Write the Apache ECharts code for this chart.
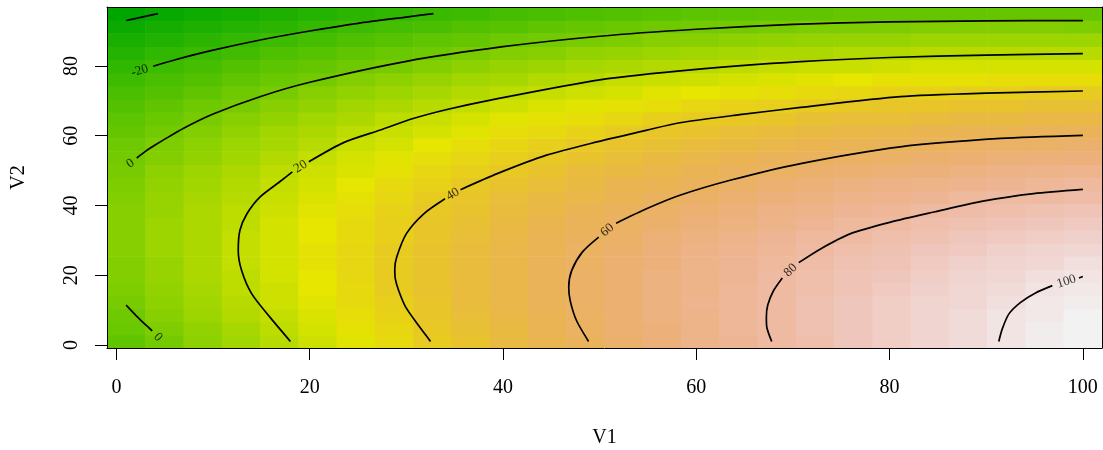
<!DOCTYPE html>
<html>
<head>
<meta charset="utf-8">
<script src="https://cdn.jsdelivr.net/npm/echarts@6/dist/echarts.min.js"></script>
<style>
html, body { margin: 0; padding: 0; background: #fff; }
#chart { width: 1103px; height: 450px; }
</style>
</head>
<body>
<div id="chart"></div>
<script>
// cell centres of the image grid
var xs = [1, 4.96, 8.92, 12.88, 16.84, 20.8, 24.76, 28.72, 32.68, 36.64, 40.6, 44.56, 48.52,
          52.48, 56.44, 60.4, 64.36, 68.32, 72.28, 76.24, 80.2, 84.16, 88.12, 92.08, 96.04, 100];
var ys = [1, 4.76, 8.52, 12.28, 16.04, 19.8, 23.56, 27.32, 31.08, 34.84, 38.6, 42.36, 46.12,
          49.88, 53.64, 57.4, 61.16, 64.92, 68.68, 72.44, 76.2, 79.96, 83.72, 87.48, 91.24, 95];

// z values, one row per ys entry (bottom to top), one column per xs entry
var zRows = [
  [-6.5,-0.1,6.2,12.3,18.2,23.9,29.5,35.0,40.2,45.3,50.3,55.1,59.7,64.1,68.4,72.6,76.5,80.3,84.0,87.5,90.8,94.0,97.0,99.8,102.5,105.0],
  [-3.9,2.4,8.5,14.5,20.3,25.9,31.4,36.7,41.9,46.9,51.7,56.4,60.9,65.2,69.4,73.4,77.2,80.9,84.5,87.8,91.0,94.1,97.0,99.7,102.2,104.6],
  [-1.6,4.6,10.6,16.5,22.1,27.7,33.0,38.2,43.2,48.1,52.8,57.4,61.7,65.9,70.0,73.9,77.6,81.2,84.6,87.9,91.0,93.9,96.6,99.2,101.7,103.9],
  [0.4,6.5,12.4,18.1,23.7,29.1,34.3,39.4,44.3,49.0,53.6,58.1,62.3,66.4,70.3,74.1,77.7,81.2,84.5,87.6,90.6,93.4,96.0,98.5,100.8,103.0],
  [2.0,8.0,13.8,19.4,24.8,30.1,35.2,40.1,44.9,49.6,54.0,58.4,62.5,66.5,70.3,73.9,77.4,80.8,83.9,86.9,89.8,92.5,95.0,97.4,99.6,101.6],
  [3.3,9.1,14.8,20.3,25.6,30.8,35.7,40.6,45.3,49.8,54.1,58.3,62.3,66.2,69.9,73.4,76.8,80.0,83.1,86.0,88.7,91.3,93.7,95.9,98.0,99.9],
  [4.2,9.9,15.5,20.8,26.0,31.1,35.9,40.7,45.2,49.6,53.8,57.9,61.8,65.6,69.2,72.6,75.8,78.9,81.9,84.6,87.2,89.7,92.0,94.1,96.0,97.8],
  [4.8,10.4,15.8,21.1,26.1,31.1,35.8,40.4,44.9,49.2,53.3,57.2,61.0,64.6,68.1,71.4,74.5,77.5,80.3,82.9,85.4,87.8,89.9,91.9,93.8,95.5],
  [5.1,10.5,15.8,21.0,25.9,30.7,35.4,39.8,44.2,48.3,52.3,56.2,59.8,63.3,66.7,69.8,72.9,75.7,78.4,80.9,83.3,85.5,87.6,89.4,91.2,92.7],
  [5.0,10.3,15.5,20.5,25.3,30.1,34.6,38.9,43.1,47.2,51.0,54.8,58.3,61.7,64.9,68.0,70.9,73.6,76.2,78.6,80.8,82.9,84.8,86.6,88.2,89.7],
  [4.6,9.8,14.8,19.7,24.4,29.0,33.4,37.6,41.7,45.7,49.4,53.0,56.4,59.7,62.8,65.7,68.5,71.1,73.6,75.9,78.0,80.0,81.8,83.4,84.9,86.2],
  [3.8,8.9,13.8,18.6,23.2,27.7,31.9,36.0,40.0,43.8,47.4,50.9,54.2,57.4,60.4,63.2,65.8,68.3,70.7,72.8,74.8,76.7,78.4,79.9,81.3,82.5],
  [2.7,7.6,12.5,17.1,21.6,25.9,30.1,34.1,37.9,41.6,45.1,48.5,51.7,54.7,57.6,60.3,62.8,65.2,67.4,69.5,71.3,73.1,74.7,76.0,77.3,78.4],
  [1.2,6.0,10.8,15.3,19.6,23.9,27.9,31.8,35.5,39.1,42.5,45.7,48.8,51.7,54.4,57.0,59.4,61.7,63.8,65.7,67.5,69.1,70.6,71.8,73.0,74.0],
  [-0.6,4.1,8.7,13.1,17.4,21.5,25.4,29.2,32.8,36.2,39.5,42.6,45.6,48.3,51.0,53.4,55.7,57.9,59.9,61.7,63.3,64.8,66.2,67.3,68.3,69.2],
  [-2.8,1.9,6.4,10.6,14.7,18.7,22.5,26.2,29.7,33.0,36.1,39.2,42.0,44.6,47.2,49.5,51.7,53.7,55.6,57.3,58.8,60.2,61.4,62.4,63.3,64.1],
  [-5.2,-0.8,3.6,7.8,11.8,15.7,19.3,22.8,26.2,29.4,32.5,35.4,38.1,40.6,43.0,45.2,47.3,49.2,50.9,52.5,53.9,55.2,56.3,57.2,58.0,58.6],
  [-8.1,-3.7,0.6,4.6,8.5,12.2,15.8,19.2,22.5,25.5,28.4,31.2,33.8,36.2,38.5,40.6,42.5,44.3,46.0,47.4,48.7,49.9,50.8,51.6,52.3,52.8],
  [-11.2,-7.0,-2.8,1.1,4.8,8.5,11.9,15.2,18.3,21.3,24.1,26.8,29.2,31.5,33.7,35.7,37.5,39.1,40.7,42.0,43.1,44.2,45.0,45.7,46.3,46.6],
  [-14.8,-10.6,-6.6,-2.8,0.8,4.4,7.7,10.8,13.9,16.7,19.4,21.9,24.3,26.4,28.5,30.3,32.0,33.6,35.0,36.2,37.2,38.2,38.9,39.4,39.9,40.1],
  [-18.6,-14.6,-10.7,-7.0,-3.5,-0.1,3.1,6.1,9.1,11.8,14.3,16.8,19.0,21.0,23.0,24.7,26.3,27.7,29.0,30.1,31.0,31.8,32.4,32.8,33.2,33.3],
  [-22.8,-18.9,-15.1,-11.6,-8.2,-4.9,-1.8,1.1,3.9,6.5,8.9,11.3,13.4,15.3,17.1,18.7,20.2,21.5,22.7,23.6,24.4,25.1,25.6,25.9,26.1,26.1],
  [-27.4,-23.6,-19.9,-16.5,-13.2,-10.0,-7.1,-4.3,-1.6,0.9,3.2,5.4,7.4,9.2,10.9,12.4,13.7,14.9,16.0,16.8,17.5,18.1,18.4,18.6,18.7,18.6],
  [-32.2,-28.6,-25.0,-21.7,-18.6,-15.5,-12.7,-10.0,-7.4,-5.1,-2.9,-0.8,1.1,2.7,4.4,5.7,6.9,8.0,8.9,9.7,10.2,10.7,10.9,11.0,11.0,10.8],
  [-37.5,-33.9,-30.5,-27.3,-24.3,-21.3,-18.6,-16.1,-13.6,-11.4,-9.3,-7.3,-5.6,-4.0,-2.5,-1.3,-0.2,0.7,1.6,2.2,2.6,3.0,3.1,3.0,2.9,2.6],
  [-43.0,-39.6,-36.3,-33.2,-30.3,-27.5,-24.9,-22.5,-20.1,-18.0,-16.1,-14.2,-12.6,-11.2,-9.8,-8.6,-7.7,-6.9,-6.1,-5.7,-5.3,-5.1,-5.1,-5.3,-5.5,-6.0]
];

var xTicks = [0, 20, 40, 60, 80, 100];
var yTicks = [0, 20, 40, 60, 80];

// contour lines, each one split where its label sits
var contourM40 = [
  [[1, 93.0], [2.5, 93.9], [4.3, 95.0]]
];
var contourM20 = [
  [[3.8, 79.9], [6, 81.7], [10, 84.5], [15, 87.5], [20, 90.0], [25, 92.2], [30, 94.0], [32.8, 95.0]]
];
var contour0 = [
  [[1, 11.4], [2, 8.5], [3, 5.8], [3.7, 4.0]],
  [[2.1, 53.6], [3, 55.5], [4, 57.3], [5, 59.0], [7, 62.2], [10, 66.2], [15, 71.3], [20, 75.3],
   [30, 81.3], [40, 85.5], [50, 88.5], [60, 90.5], [70, 91.9], [80, 92.6], [90, 92.9], [100, 93.0]]
];
var contour20 = [
  [[18.0, 1.0], [15.9, 7.9], [14.0, 14.65], [12.95, 21.35], [12.6, 27.1], [12.77, 32.8], [13.5, 37.6],
   [14.84, 42.4], [17.1, 47.2], [18.2, 49.6]],
  [[19.9, 52.5], [23.5, 58.0], [27.3, 61.6], [30.7, 64.9], [34.2, 67.5], [38.7, 70.2], [50, 76.0],
   [60, 79.0], [70.8, 81.2], [80, 82.4], [90, 83.1], [100, 83.5]]
];
var contour40 = [
  [[32.5, 1.0], [31.3, 5.4], [29.9, 11.0], [29.2, 15.6], [28.85, 19.0], [28.8, 21.8], [29.0, 25.2],
   [30.0, 31.9], [31.8, 37.6], [34.0, 41.9]],
  [[35.6, 44.5], [39.4, 49.1], [44.5, 54.4], [49.7, 58.2], [54.9, 61.6], [58.3, 63.7], [64.5, 66.0],
   [70.8, 68.1], [81.1, 71.2], [90, 72.2], [100, 72.8]]
];
var contour60 = [
  [[48.85, 1.0], [47.6, 7.0], [46.95, 12.7], [46.8, 16.55], [47.1, 21.3], [48.2, 26.6], [49.9, 30.9]],
  [[51.7, 34.9], [54.9, 39.1], [58.3, 42.9], [63.5, 47.2], [70.8, 52.0], [81.1, 56.8], [91.5, 59.2], [100, 60.1]]
];
var contour80 = [
  [[67.8, 1.0], [67.3, 5.0], [67.25, 8.0], [67.4, 11.5], [68.0, 15.6], [68.9, 19.2]],
  [[70.6, 23.6], [72.9, 27.6], [75.96, 31.9], [80.1, 35.2], [84.6, 38.1], [89.8, 41.3], [94.9, 43.4], [100, 44.6]]
];
var contour100 = [
  [[91.3, 1.0], [91.66, 4.6], [92.35, 8.9], [93.56, 12.2], [95.1, 14.9], [96.84, 17.0]],
  [[99.6, 19.2], [100, 19.6]]
];

// label anchor [x, y, text]
var contourLabels = [
  [2.4, 78.6, '-20'],
  [1.45, 52.0, '0'],
  [4.3, 2.2, '0'],
  [19.05, 51.1, '20'],
  [34.8, 43.2, '40'],
  [50.8, 32.9, '60'],
  [69.75, 21.4, '80'],
  [98.3, 18.2, '100']
];
var labelAngles = [17, 35, -46, 32, 31, 40, 44, 18];

var FONT = 'Liberation Serif';

// R's terrain.colors(n)
function hsv(h, s, v) {
    var i = Math.floor(h * 6), f = h * 6 - i;
    var p = v * (1 - s), q = v * (1 - f * s), t = v * (1 - (1 - f) * s);
    var rgb;
    switch (((i % 6) + 6) % 6) {
        case 0: rgb = [v, t, p]; break;
        case 1: rgb = [q, v, p]; break;
        case 2: rgb = [p, v, t]; break;
        case 3: rgb = [p, q, v]; break;
        case 4: rgb = [t, p, v]; break;
        default: rgb = [v, p, q];
    }
    return 'rgb(' + rgb.map(function (c) { return Math.round(c * 255); }).join(',') + ')';
}
function terrainColors(n) {
    var k = Math.floor(n / 2), cols = [];
    for (var i = 0; i < k; i++) {
        var t = k > 1 ? i / (k - 1) : 0;
        cols.push(hsv(4 / 12 - (2 / 12) * t, 1, 0.65 + 0.25 * t));
    }
    for (var j = 1; j <= n - k; j++) {
        var u = j / (n - k);
        cols.push(hsv((2 / 12) * (1 - u), 1 - u, 0.9 + 0.05 * u));
    }
    return cols;
}

var NCOL = 100;
var palette = terrainColors(NCOL);
var zMin = Infinity, zMax = -Infinity;
var cells = [];
zRows.forEach(function (row, j) {
    row.forEach(function (z, i) {
        cells.push([xs[i], ys[j], z]);
        if (z < zMin) zMin = z;
        if (z > zMax) zMax = z;
    });
});
function colorFor(z) {
    var k = Math.floor((z - zMin) / (zMax - zMin) * NCOL);
    return palette[Math.max(0, Math.min(NCOL - 1, k))];
}

var dx = xs[1] - xs[0];
var dy = ys[1] - ys[0];
var xMin = xs[0] - dx / 2, xMax = xs[xs.length - 1] + dx / 2;
var yMin = ys[0] - dy / 2, yMax = ys[ys.length - 1] + dy / 2;

var series = [{
    type: 'custom',
    data: cells,
    encode: { x: 0, y: 1 },
    clip: true,
    silent: true,
    z: 1,
    renderItem: function (params, api) {
        var x = api.value(0), y = api.value(1), z = api.value(2);
        var p0 = api.coord([x - dx / 2, y + dy / 2]);
        var p1 = api.coord([x + dx / 2, y - dy / 2]);
        return {
            type: 'rect',
            shape: { x: p0[0], y: p0[1], width: p1[0] - p0[0] + 0.6, height: p1[1] - p0[1] + 0.6 },
            style: { fill: colorFor(z) }
        };
    }
}];

[contourM40, contourM20, contour0, contour20, contour40, contour60, contour80, contour100].forEach(function (c) {
    c.forEach(function (seg) {
        series.push({
            type: 'line',
            data: seg,
            symbol: 'none',
            smooth: 0.25,
            silent: true,
            z: 3,
            lineStyle: { color: '#000', width: 1.7 }
        });
    });
});

series.push({
    type: 'scatter',
    symbolSize: 0,
    silent: true,
    z: 4,
    data: contourLabels.map(function (d, i) {
        return { name: d[2], value: [d[0], d[1]], label: { rotate: labelAngles[i] } };
    }),
    label: {
        show: true,
        position: 'inside',
        formatter: '{b}',
        fontFamily: FONT,
        fontSize: 13,
        color: '#000'
    }
});

var chart = echarts.init(document.getElementById('chart'));
chart.setOption({
    animation: false,
    backgroundColor: '#fff',
    grid: { left: 107, top: 7, right: 1, bottom: 102, containLabel: false, outerBoundsMode: 'none' },
    xAxis: [{
        type: 'value', position: 'bottom', min: xMin, max: xMax, z: 10,
        axisLine: { show: true, onZero: false, lineStyle: { color: '#000', width: 1 } },
        axisTick: { show: true, customValues: xTicks, length: 12, lineStyle: { color: '#000', width: 1 } },
        axisLabel: { customValues: xTicks, margin: 30, fontFamily: FONT, fontSize: 20, color: '#000' },
        splitLine: { show: false },
        name: 'V1', nameLocation: 'middle', nameGap: 80,
        nameTextStyle: { fontFamily: FONT, fontSize: 20, color: '#000' }
    }, {
        type: 'value', position: 'top', min: xMin, max: xMax, z: 10,
        axisLine: { show: true, onZero: false, lineStyle: { color: '#000', width: 1 } },
        axisTick: { show: false }, axisLabel: { show: false }, splitLine: { show: false }
    }],
    yAxis: [{
        type: 'value', position: 'left', min: yMin, max: yMax, z: 10,
        axisLine: { show: true, onZero: false, lineStyle: { color: '#000', width: 1 } },
        axisTick: { show: true, customValues: yTicks, length: 12, lineStyle: { color: '#000', width: 1 } },
        axisLabel: { customValues: yTicks, rotate: 90, margin: 25, fontFamily: FONT, fontSize: 20, color: '#000' },
        splitLine: { show: false },
        name: 'V2', nameLocation: 'middle', nameGap: 78,
        nameTextStyle: { fontFamily: FONT, fontSize: 20, color: '#000' }
    }, {
        type: 'value', position: 'right', min: yMin, max: yMax, z: 10,
        axisLine: { show: true, onZero: false, lineStyle: { color: '#000', width: 1 } },
        axisTick: { show: false }, axisLabel: { show: false }, splitLine: { show: false }
    }],
    series: series
});
</script>
</body>
</html>
